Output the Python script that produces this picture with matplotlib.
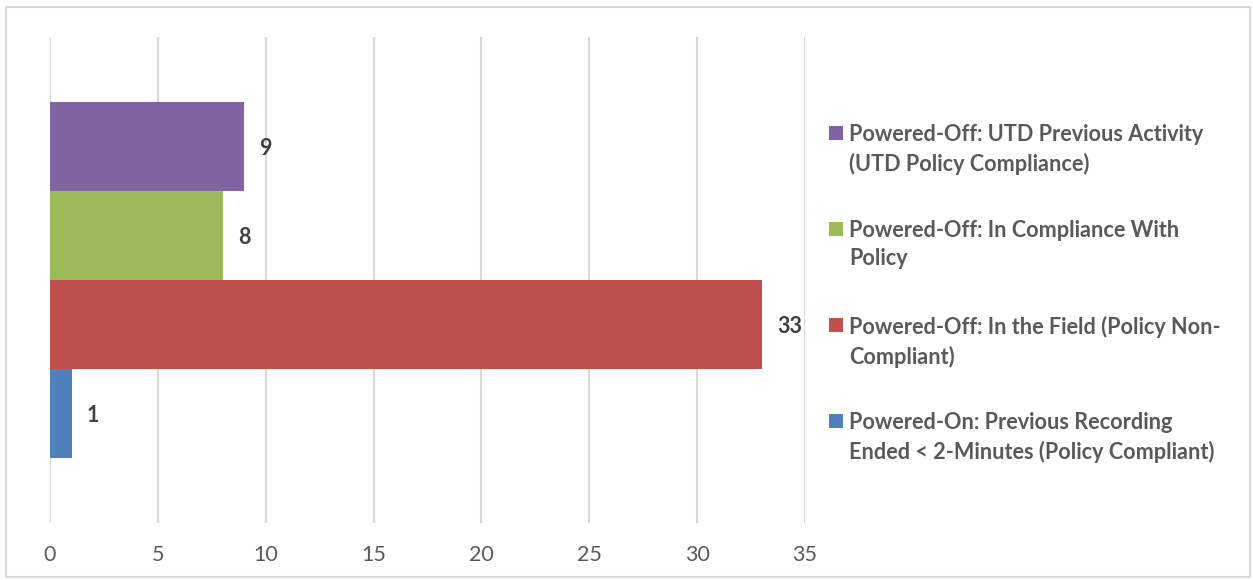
import numpy as np
import matplotlib.pyplot as plt
from matplotlib.patches import Rectangle

# series, drawn bottom to top
series_names = [
    "Powered-On: Previous Recording\nEnded < 2-Minutes (Policy Compliant)",
    "Powered-Off: In the Field (Policy Non-\nCompliant)",
    "Powered-Off: In Compliance With\nPolicy",
    "Powered-Off: UTD Previous Activity\n(UTD Policy Compliance)",
]
series_values = [1, 33, 8, 9]
series_colors = ["#4F81BD", "#C0504D", "#9BBB59", "#8064A2"]
x_ticks = [0, 5, 10, 15, 20, 25, 30, 35]

plt.rcParams['font.family'] = ['Lato', 'DejaVu Sans']

W, H = 1253, 580
fig = plt.figure(figsize=(W / 100, H / 100), dpi=100, facecolor="white")

# chart border
fig.patches.append(Rectangle((6 / W, 1 - 577 / H), 1244 / W, 570 / H,
                             transform=fig.transFigure, fill=False,
                             edgecolor="#D9D9D9", linewidth=1.5))

ax = fig.add_axes([50 / W, 1 - 523 / H, 755 / W, 486 / H])

n = len(series_values)
bar_h = 89 / 486
offsets = (np.arange(n) - (n - 1) / 2) * bar_h
for i in range(n):
    ax.barh(offsets[i], series_values[i], height=bar_h, color=series_colors[i],
            zorder=3)
    ax.annotate(str(series_values[i]), (series_values[i], offsets[i]),
                xytext=(11, 0), textcoords="offset points", va="center_baseline",
                ha="left", fontsize=15.5, fontweight="bold", color="#404040")

ax.set_xlim(0, 35)
ax.set_ylim(-0.5, 0.5)
ax.set_xticks(x_ticks)
ax.set_yticks([])
ax.tick_params(axis="x", length=0, pad=16, labelsize=15.5, labelcolor="#595959")
ax.grid(axis="x", color="#D9D9D9", linewidth=1.5, zorder=0)
for s in ax.spines.values():
    s.set_visible(False)

# legend, top entry first
legend_y = [133, 229, 325, 421]
for k, i in enumerate(range(n - 1, -1, -1)):
    y = legend_y[k]
    fig.patches.append(Rectangle((829 / W, 1 - (y + 7) / H), 14 / W, 14 / H,
                                 transform=fig.transFigure,
                                 facecolor=series_colors[i], edgecolor="none"))
    fig.text(849 / W, 1 - (y - 9) / H, series_names[i], ha="left", va="top",
             fontsize=15.6, fontweight="bold", color="#595959", linespacing=1.43)

fig.savefig("out.png", dpi=100)
